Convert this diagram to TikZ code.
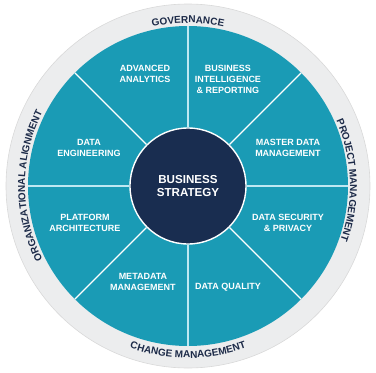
\documentclass[tikz,border=0pt]{standalone}
\usepackage{fontspec}
\setmainfont{Liberation Sans}
\usepackage{tikz}
\usetikzlibrary{positioning, calc, decorations.text}

\definecolor{wheelTeal}{RGB}{26,155,181}
\definecolor{coreNavy}{RGB}{25,45,80}
\definecolor{ringGray}{RGB}{236,237,238}
\definecolor{ringNavy}{RGB}{28,42,72}
\definecolor{spokeLight}{RGB}{190,232,242}

\begin{document}
\begin{tikzpicture}[
        x=1pt, y=1pt,
        ringDisc/.style={
            circle, fill=ringGray, draw=gray!30, line width=0.6pt,
            minimum size=364pt, inner sep=0pt
        },
        wheelDisc/.style={
            circle, fill=wheelTeal, minimum size=320pt, inner sep=0pt
        },
        coreCircle/.style={
            circle, fill=coreNavy, draw=white, line width=1.4pt,
            minimum size=116pt, inner sep=0pt, text=white, align=center,
            font=\bfseries\fontsize{11.6}{13.5}\selectfont
        },
        segLabel/.style={
            text=white, align=center,
            font=\bfseries\fontsize{9}{11}\selectfont
        },
        spoke/.style={
            line width=1.2pt
        },
        ringText/.style={
            decorate, decoration={text along path, text align=center,
            text={|\bfseries\fontsize{10}{12}\selectfont\color{ringNavy}|#1}}
        }
    ]
        \useasboundingbox (-188,-187) rectangle (188,186);

        % Discs
        \node (ring) [ringDisc] at (0,0) {};
        \node (wheel) [wheelDisc] at (0,0) {};

        % Spokes
        \foreach \a in {0,90,180,270}
            \coordinate (rim\a) at (\a:160);
        \foreach \a in {45,135,225,315}
            \coordinate (rim\a) at (\a:160);
        \node (core) [coreCircle] at (0,0) {BUSINESS\\STRATEGY};
        \foreach \a in {0,90,180,270}
            \draw [spoke, spokeLight] (core.\a) -- (rim\a);
        \foreach \a in {45,135,225,315}
            \draw [spoke, white] (core.\a) -- (rim\a);

        % Segment labels
        \node (analytics) [segLabel] at (-43,112) {ADVANCED\\ANALYTICS};
        \node (bi) [segLabel] at (40,107) {BUSINESS\\INTELLIGENCE\\\& REPORTING};
        \node (engineering) [segLabel] at (-99,38) {DATA\\ENGINEERING};
        \node (mdm) [segLabel] at (100,38) {MASTER DATA\\MANAGEMENT};
        \node (platform) [segLabel] at (-103,-37) {PLATFORM\\ARCHITECTURE};
        \node (security) [segLabel] at (100,-37) {DATA SECURITY\\\& PRIVACY};
        \node (metadata) [segLabel] at (-45,-96) {METADATA\\MANAGEMENT};
        \node (quality) [segLabel] at (40,-101) {DATA QUALITY};

        % Ring texts
        \path [ringText={GOVERNANCE}] (150:163) arc[start angle=150, end angle=30, radius=163];
        \path [ringText={PROJECT MANAGEMENT}] (62:162) arc[start angle=62, end angle=-58, radius=162];
        \path [ringText={CHANGE MANAGEMENT}] (210:172) arc[start angle=210, end angle=330, radius=172];
        \path [ringText={ORGANIZATIONAL ALIGNMENT}] (240:163) arc[start angle=240, end angle=120, radius=163];
\end{tikzpicture}
\end{document}
